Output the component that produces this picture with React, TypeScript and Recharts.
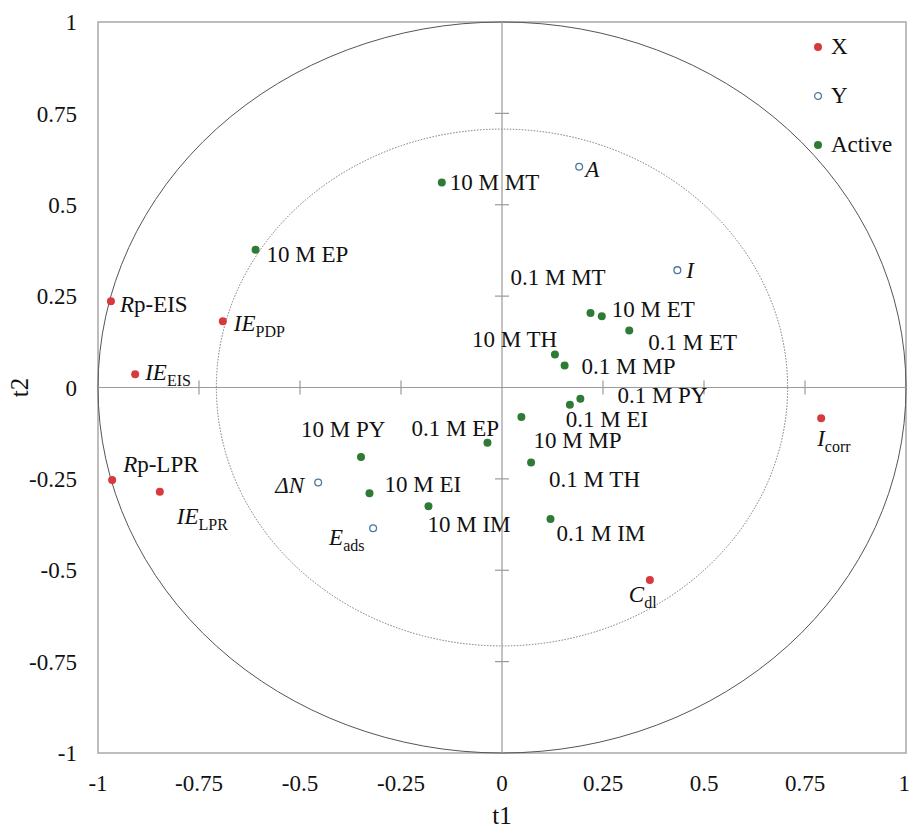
import React from "react";
import {
  ScatterChart,
  Scatter,
  XAxis,
  YAxis,
  ReferenceArea,
  ReferenceLine,
  ReferenceDot,
  Legend,
} from "recharts";

// ---------- data ----------
const axisTicks = [-1, -0.75, -0.5, -0.25, 0, 0.25, 0.5, 0.75, 1];
const crossTicks = [-0.75, -0.5, -0.25, 0.25, 0.5, 0.75];
const circleRadii = [1, 0.707];

const xNames = ["*R*p-EIS", "*IE*_PDP", "*IE*_EIS", "*R*p-LPR", "*IE*_LPR", "*I*_corr", "*C*_dl"];
const xT1 = [-0.968, -0.691, -0.908, -0.965, -0.847, 0.79, 0.366];
const xT2 = [0.236, 0.181, 0.036, -0.253, -0.285, -0.084, -0.527];

const yNames = ["*A*", "*I*", "*ΔN*", "*E*_ads"];
const yT1 = [0.191, 0.434, -0.455, -0.319];
const yT2 = [0.604, 0.321, -0.26, -0.385];

const activeNames = [
  "10 M MT", "10 M EP", "0.1 M MT", "10 M ET", "0.1 M ET", "10 M TH", "0.1 M MP", "0.1 M PY",
  "0.1 M EI", "0.1 M EP", "10 M MP", "10 M PY", "10 M EI", "10 M IM", "0.1 M TH", "0.1 M IM",
];
const activeT1 = [-0.149, -0.61, 0.219, 0.247, 0.315, 0.131, 0.155, 0.194, 0.168, -0.036, 0.048, -0.349, -0.328, -0.182, 0.072, 0.12];
const activeT2 = [0.561, 0.377, 0.204, 0.195, 0.156, 0.09, 0.06, -0.031, -0.047, -0.151, -0.081, -0.19, -0.289, -0.325, -0.205, -0.36];

// ---------- layout (label offsets in px, relative to the marker) ----------
const labelOffsets: Record<string, [number, number, string?]> = {
  "*R*p-EIS": [9, 3],
  "*IE*_PDP": [11, 2],
  "*IE*_EIS": [10, -2],
  "*R*p-LPR": [11, -16],
  "*IE*_LPR": [17, 24],
  "*I*_corr": [-4, 20],
  "*C*_dl": [-21, 14],
  "*A*": [6, 2],
  "*I*": [9, 0],
  "*ΔN*": [-14, 2, "end"],
  "*E*_ads": [-44, 9],
  "10 M MT": [8, 0],
  "10 M EP": [11, 4],
  "0.1 M MT": [-80, -36],
  "10 M ET": [10, -7],
  "0.1 M ET": [19, 12],
  "10 M TH": [-83, -16],
  "0.1 M MP": [17, 0],
  "0.1 M PY": [37, -4],
  "0.1 M EI": [-4, 14],
  "0.1 M EP": [-76, -15],
  "10 M MP": [12, 23],
  "10 M PY": [-60, -28],
  "10 M EI": [15, -9],
  "10 M IM": [-1, 18],
  "0.1 M TH": [18, 17],
  "0.1 M IM": [6, 14],
};

const FONT = "Liberation Serif";
const RED = "#d83a3c";
const GREEN = "#2f7a35";
const BLUE = "#4a78a0";

const build = (names: string[], t1: number[], t2: number[]) =>
  names.map((name, i) => ({ name, t1: t1[i], t2: t2[i] }));

const xData = build(xNames, xT1, xT2);
const yData = build(yNames, yT1, yT2);
const activeData = build(activeNames, activeT1, activeT2);

const seriesDefs = [
  { key: "X", data: xData, color: RED, open: false },
  { key: "Y", data: yData, color: BLUE, open: true },
  { key: "Active", data: activeData, color: GREEN, open: false },
];

function LabelText({ x, y, name, anchor }: { x: number; y: number; name: string; anchor?: string }) {
  const m = name.match(/^\*(.+?)\*([^_]*)(?:_(.*))?$/);
  const common = {
    x,
    y,
    fontSize: 23,
    fill: "#111",
    fontFamily: FONT,
    textAnchor: (anchor || "start") as any,
  };
  if (!m) return <text {...common}>{name}</text>;
  const [, it, rest, sub] = m;
  return (
    <text {...common}>
      <tspan fontStyle="italic">{it}</tspan>
      {rest ? <tspan>{rest}</tspan> : null}
      {sub ? (
        <tspan fontSize={16} dy={6}>
          {sub}
        </tspan>
      ) : null}
    </text>
  );
}

const makeShape = (color: string, open: boolean) => (props: any) => {
  const { cx, cy, payload } = props;
  if (cx == null || cy == null) return <g />;
  const off = labelOffsets[payload.name] || [8, 0];
  return (
    <g>
      {open ? (
        <circle cx={cx} cy={cy} r={3.4} fill="#fff" stroke={color} strokeWidth={1.3} />
      ) : (
        <circle cx={cx} cy={cy} r={4} fill={color} />
      )}
      <LabelText x={cx + off[0]} y={cy + off[1] + 8} name={payload.name} anchor={off[2]} />
    </g>
  );
};

const ellipseShape = (dashed: boolean) => (p: any) => (
  <ellipse
    cx={p.x + p.width / 2}
    cy={p.y + p.height / 2}
    rx={Math.abs(p.width) / 2}
    ry={Math.abs(p.height) / 2}
    fill="none"
    stroke={dashed ? "#777" : "#555"}
    strokeWidth={1}
    strokeDasharray={dashed ? "1.5 1.5" : undefined}
  />
);

const LegendContent = () => (
  <div style={{ fontFamily: FONT, fontSize: 23, color: "#111" }}>
    {seriesDefs.map((s) => (
      <div key={s.key} style={{ display: "flex", alignItems: "center", height: 49 }}>
        <svg width={12} height={12} style={{ marginRight: 7 }}>
          {s.open ? (
            <circle cx={6} cy={6} r={3.4} fill="#fff" stroke={s.color} strokeWidth={1.3} />
          ) : (
            <circle cx={6} cy={6} r={4} fill={s.color} />
          )}
        </svg>
        <span style={{ lineHeight: "49px" }}>{s.key}</span>
      </div>
    ))}
  </div>
);

const tickStyle = { fontSize: 23, fill: "#111", fontFamily: FONT } as any;

export default function App() {
  return (
    <div style={{ position: "absolute", left: 0, top: 0, width: 910, height: 828, background: "#fff" }}>
      <ScatterChart width={910} height={828} margin={{ top: 22, right: 4, bottom: 0, left: 0 }}>
        <XAxis
          type="number"
          dataKey="t1"
          domain={[-1, 1]}
          ticks={axisTicks}
          allowDataOverflow
          height={75}
          axisLine={false}
          tickLine={false}
          tickSize={6}
          tickMargin={16}
          tick={tickStyle}
          label={{
            content: (p: any) => (
              <text
                x={p.viewBox.x + p.viewBox.width / 2}
                y={p.viewBox.y + 71}
                textAnchor="middle"
                fontFamily={FONT}
                fontSize={25}
                fill="#111"
              >
                t1
              </text>
            ),
          }}
        />
        <YAxis
          type="number"
          dataKey="t2"
          domain={[-1, 1]}
          ticks={axisTicks}
          allowDataOverflow
          width={98}
          axisLine={false}
          tickLine={false}
          tickSize={6}
          tickMargin={15}
          tick={tickStyle}
          label={{
            content: (p: any) => {
              const cx = 28;
              const cy = p.viewBox.y + p.viewBox.height / 2;
              return (
                <text
                  x={cx}
                  y={cy}
                  transform={`rotate(-90 ${cx} ${cy})`}
                  textAnchor="middle"
                  fontFamily={FONT}
                  fontSize={25}
                  fill="#111"
                >
                  t2
                </text>
              );
            },
          }}
        />
        <ReferenceArea x1={-1} x2={1} y1={-1} y2={1} fill="none" stroke="#a8a8a8" strokeWidth={1.5} fillOpacity={0} />
        {circleRadii.map((r, i) => (
          <ReferenceArea key={"c" + r} x1={-r} x2={r} y1={-r} y2={r} shape={ellipseShape(i > 0)} />
        ))}
        <ReferenceLine x={0} stroke="#9a9a9a" strokeWidth={1.2} />
        <ReferenceLine y={0} stroke="#9a9a9a" strokeWidth={1.2} />
        {crossTicks.map((t) => (
          <ReferenceDot
            key={"hx" + t}
            x={t}
            y={0}
            shape={(p: any) => <line x1={p.cx} x2={p.cx} y1={p.cy - 7} y2={p.cy + 7} stroke="#9a9a9a" strokeWidth={1.2} />}
          />
        ))}
        {crossTicks.map((t) => (
          <ReferenceDot
            key={"vy" + t}
            x={0}
            y={t}
            shape={(p: any) => <line x1={p.cx - 7} x2={p.cx + 7} y1={p.cy} y2={p.cy} stroke="#9a9a9a" strokeWidth={1.2} />}
          />
        ))}
        {seriesDefs.map((s) => (
          <Scatter
            key={s.key}
            name={s.key}
            data={s.data}
            fill={s.color}
            isAnimationActive={false}
            shape={makeShape(s.color, s.open)}
          />
        ))}
        <Legend
          layout="horizontal"
          verticalAlign="middle"
          align="center"
          content={LegendContent}
          wrapperStyle={{ position: "absolute", top: 22, left: 812, width: 98, height: 150 }}
        />
      </ScatterChart>
    </div>
  );
}
